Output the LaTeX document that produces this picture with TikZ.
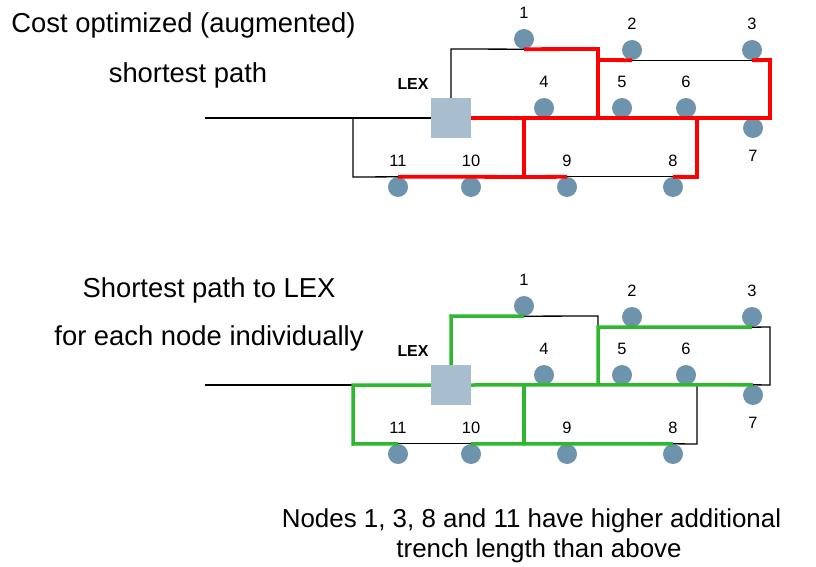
\documentclass[tikz,border=0pt]{standalone}
\usepackage{fontspec}
\setmainfont{Liberation Sans}
\usepackage{xcolor}
\usetikzlibrary{positioning}

\definecolor{stationblue}{HTML}{6E93AD}
\definecolor{lexgray}{HTML}{A8BECE}
\definecolor{trenchred}{HTML}{FF0000}
\definecolor{trenchgreen}{HTML}{2DB82D}

\begin{document}
\begin{tikzpicture}[x=1bp, y=-1bp,
        station/.style={circle, fill=stationblue, minimum size=20bp, inner sep=0pt},
        lex/.style={rectangle, fill=lexgray, minimum size=40bp, inner sep=0pt},
        every label/.style={font=\fontsize{16.5}{18}\selectfont, inner sep=0pt},
        label distance=10bp,
        caption/.style={anchor=base, inner sep=0pt, font=\fontsize{27.5}{30}\selectfont},
        note/.style={anchor=base, inner sep=0pt, font=\fontsize{26}{28}\selectfont},
        trench/.style={line width=1.3bp},
        redtrench/.style={line width=3.8bp, trenchred},
        greentrench/.style={line width=3.5bp, trenchgreen}]
        \useasboundingbox (0,0) rectangle (816,567);

        \node[caption] (t1) at (183.5, 33) {Cost optimized (augmented)};
        \node[caption] (t2) at (188, 83) {shortest path};
        \node[caption] (t3) at (209, 297) {Shortest path to LEX};
        \node[caption] (t4) at (209, 345) {for each node individually};
        \node[note] (t5) at (531.5, 527) {Nodes 1, 3, 8 and 11 have higher additional};
        \node[note] (t6) at (539, 557) {trench length than above};

        % cost optimized tree
        \node[lex, label={[font=\fontsize{16}{18}\selectfont\bfseries, xshift=-38bp, label distance=8bp]above:LEX}] (alex) at (451, 118) {};
        \node[station, label=above:1] (a1) at (524, 39) {};
        \node[station, label=above:2] (a2) at (632, 50) {};
        \node[station, label=above:3] (a3) at (752, 50) {};
        \node[station, label=above:4] (a4) at (544, 108) {};
        \node[station, label=above:5] (a5) at (622, 108) {};
        \node[station, label=above:6] (a6) at (686, 108) {};
        \node[station, label={[label distance=12bp]below:7}] (a7) at (753, 128) {};
        \node[station, label=above:8] (a8) at (673, 187) {};
        \node[station, label=above:9] (a9) at (567, 187) {};
        \node[station, label=above:10] (a10) at (471, 187) {};
        \node[station, label=above:11] (a11) at (398, 187) {};
        \coordinate (afeed) at (205, 118);
        \coordinate (aW) at (353, 118);
        \coordinate (aSW) at (353, 177);
        \coordinate (aC) at (524, 118);
        \coordinate (aB) at (524, 177);
        \coordinate (aD) at (598, 118);
        \coordinate (aN) at (598, 49);
        \coordinate (aU) at (598, 60);
        \coordinate (aNW) at (451, 49);
        \coordinate (aE) at (697, 177);
        \coordinate (aF) at (697, 118);
        \coordinate (aG) at (770, 118);
        \coordinate (aUE) at (770, 60);

        \draw[trench] (afeed) -- (alex.west);
        \draw[trench] (aW) -- (aSW) -- (a11.north);
        \draw[trench] (a9.north) -- (a8.north);
        \draw[trench] (alex.north) -- (aNW) -- (a1.south);
        \draw[trench] (a2.south) -- (a3.south);
        \draw[redtrench] (alex.east) -- (aG) -- (aUE) -- (a3.south);
        \draw[redtrench] (a11.north) -- (a10.north) -- (aB) -- (a9.north);
        \draw[redtrench] (aC) -- (aB);
        \draw[redtrench] (a8.north) -- (aE) -- (aF);
        \draw[redtrench] (a1.south) -- (aN) -- (aD);
        \draw[redtrench] (aU) -- (a2.south);

        % shortest paths
        \node[lex, label={[font=\fontsize{16}{18}\selectfont\bfseries, xshift=-38bp, label distance=8bp]above:LEX}] (blex) at (451, 385) {};
        \node[station, label=above:1] (b1) at (524, 306) {};
        \node[station, label=above:2] (b2) at (632, 317) {};
        \node[station, label=above:3] (b3) at (752, 317) {};
        \node[station, label=above:4] (b4) at (544, 375) {};
        \node[station, label=above:5] (b5) at (622, 375) {};
        \node[station, label=above:6] (b6) at (686, 375) {};
        \node[station, label={[label distance=12bp]below:7}] (b7) at (753, 395) {};
        \node[station, label=above:8] (b8) at (673, 454) {};
        \node[station, label=above:9] (b9) at (567, 454) {};
        \node[station, label=above:10] (b10) at (471, 454) {};
        \node[station, label=above:11] (b11) at (398, 454) {};
        \coordinate (bfeed) at (205, 385);
        \coordinate (bW) at (353, 385);
        \coordinate (bSW) at (353, 444);
        \coordinate (bC) at (524, 385);
        \coordinate (bB) at (524, 444);
        \coordinate (bD) at (598, 385);
        \coordinate (bN) at (598, 316);
        \coordinate (bU) at (598, 327);
        \coordinate (bNW) at (451, 316);
        \coordinate (bE) at (697, 444);
        \coordinate (bF) at (697, 385);
        \coordinate (bG) at (770, 385);
        \coordinate (bUE) at (770, 327);

        \draw[trench] (bfeed) -- (bW);
        \draw[trench] (b11.north) -- (b10.north);
        \draw[trench] (b8.north) -- (bE) -- (bF);
        \draw[trench] (b7.north) -- (bG) -- (bUE) -- (b3.south);
        \draw[trench] (b1.south) -- (bN) -- (bU);
        \draw[greentrench] (blex.west) -- (bW) -- (bSW) -- (b11.north);
        \draw[greentrench] (blex.east) -- (b7.north);
        \draw[greentrench] (b10.north) -- (bB) -- (b9.north) -- (b8.north);
        \draw[greentrench] (bC) -- (bB);
        \draw[greentrench] (blex.north) -- (bNW) -- (b1.south);
        \draw[greentrench] (bD) -- (bU) -- (b2.south) -- (b3.south);
\end{tikzpicture}
\end{document}
